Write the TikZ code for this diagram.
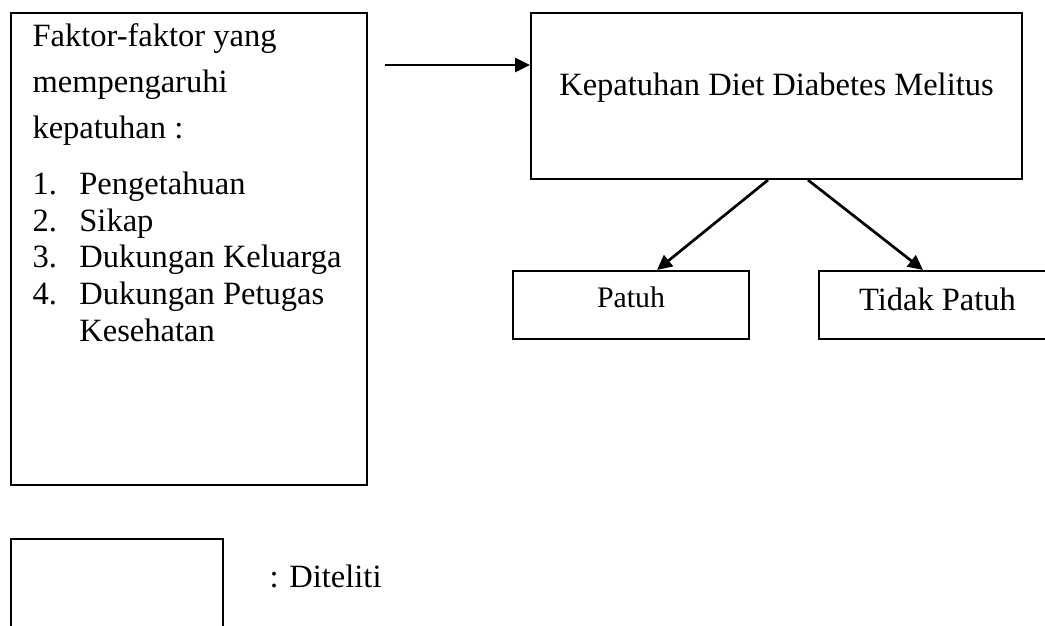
\documentclass[tikz,border=0pt]{standalone}
\usepackage{fontspec}
\setmainfont{Liberation Serif}
\usetikzlibrary{arrows.meta}
\newcommand{\pxu}{0.369pt}

\begin{document}
\begin{tikzpicture}[
    x=0.369pt, y=-0.369pt,
    >={Triangle[length=5.5pt,width=5.2pt]},
    box/.style={draw, line width=0.75pt, inner sep=0pt, text height=0.7em,
                font=\fontsize{12}{14}\selectfont},
    link/.style={->, line width=1pt}
]
  \clip (0,0) rectangle (1045,626);

  %--- boxes ---
  \node[box, minimum width=356*\pxu, minimum height=472*\pxu] (factors) at (189,249) {};
  \node[box, minimum width=491*\pxu, minimum height=166*\pxu, text depth=0.75em]
      (diet) at (776.5,96) {Kepatuhan Diet Diabetes Melitus};
  \node[box, minimum width=236*\pxu, minimum height=68*\pxu, text depth=0.5em,
        font=\fontsize{11}{13}\selectfont] (patuh) at (631,305) {Patuh};
  \node[box, minimum width=237*\pxu, minimum height=68*\pxu, text depth=0.27em]
      (tidak) at (937.5,305) {Tidak Patuh};
  \node[box, minimum width=212*\pxu, minimum height=121*\pxu] (legend) at (117,599.5) {};

  %--- texts ---
  \node[anchor=north west, align=left, inner sep=0pt,
        font=\fontsize{12}{13.56}\selectfont] (factorlist) at (32,23)
      {Faktor-faktor yang\\[3.4pt]
       mempengaruhi\\[3.4pt]
       kepatuhan :\\[7.1pt]
       \makebox[17.3pt][l]{1.}Pengetahuan\\
       \makebox[17.3pt][l]{2.}Sikap\\
       \makebox[17.3pt][l]{3.}Dukungan Keluarga\\
       \makebox[17.3pt][l]{4.}Dukungan Petugas\\
       \hspace*{17.3pt}Kesehatan};
  \node[anchor=base west, inner sep=0pt, font=\fontsize{12}{14}\selectfont]
      (diteliti) at (269,588) {: Diteliti};

  %--- edges ---
  \coordinate (arrowtail) at (385,65);
  \draw[link] (arrowtail) -- (arrowtail -| diet.west);
  \draw[link] ([xshift=-8.5*\pxu]diet.south) -- ([xshift=26*\pxu]patuh.north);
  \draw[link] ([xshift=31.5*\pxu]diet.south) -- ([xshift=-14.5*\pxu]tidak.north);
\end{tikzpicture}
\end{document}
